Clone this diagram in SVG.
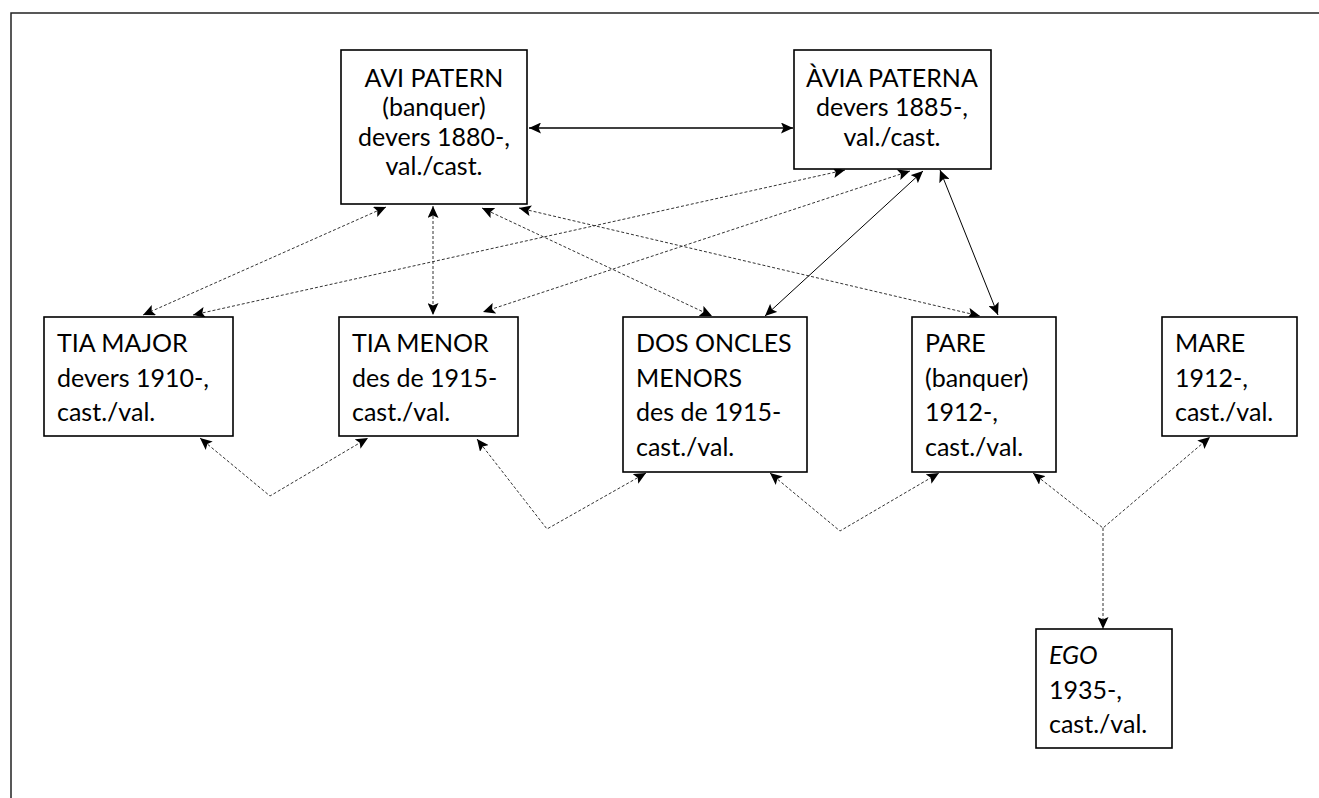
<svg xmlns="http://www.w3.org/2000/svg" width="1319" height="798" viewBox="0 0 1319 798">
<style>
.frame{fill:none;stroke:#222;stroke-width:1.5}
.box{fill:#fff;stroke:#000;stroke-width:1.6}
.t{font-family:Lato,"Liberation Sans",sans-serif;font-size:25px;fill:#000}
.c{text-anchor:middle}
.sol{fill:none;stroke:#000;stroke-width:1}
.thick{stroke-width:1.5}
.dash{fill:none;stroke:#333;stroke-width:1;stroke-dasharray:3 2}
</style>
<defs>
<marker id="ah" viewBox="0 0 12 11" refX="12" refY="5.5" markerWidth="12" markerHeight="11" markerUnits="userSpaceOnUse" orient="auto-start-reverse">
<path d="M0,0 L12,5.5 L0,11 L2.5,5.5 Z" fill="#000"/>
</marker>
</defs>
<rect class="frame" x="11" y="13" width="1330" height="800"/>

<g id="connectors">
<line class="sol thick" x1="529" y1="128" x2="793" y2="128" marker-start="url(#ah)" marker-end="url(#ah)"/>
<line class="dash" x1="386" y1="207" x2="143" y2="315" marker-start="url(#ah)" marker-end="url(#ah)"/>
<line class="dash" x1="845" y1="170" x2="193" y2="315" marker-start="url(#ah)" marker-end="url(#ah)"/>
<line class="dash" x1="433" y1="206" x2="433" y2="315" marker-start="url(#ah)" marker-end="url(#ah)"/>
<line class="dash" x1="910" y1="171" x2="483" y2="312" marker-start="url(#ah)" marker-end="url(#ah)"/>
<line class="dash" x1="482" y1="208" x2="712" y2="316" marker-start="url(#ah)" marker-end="url(#ah)"/>
<line class="dash" x1="519" y1="208" x2="980" y2="316" marker-start="url(#ah)" marker-end="url(#ah)"/>
<line class="sol" x1="923" y1="171" x2="765" y2="316" marker-start="url(#ah)" marker-end="url(#ah)"/>
<line class="sol" x1="940" y1="170" x2="998" y2="315" marker-start="url(#ah)" marker-end="url(#ah)"/>
<polyline class="dash" points="200,438 270,496 368,438" marker-start="url(#ah)" marker-end="url(#ah)"/>
<polyline class="dash" points="477,439 547,529 646,473" marker-start="url(#ah)" marker-end="url(#ah)"/>
<polyline class="dash" points="770,473 840,531 939,473" marker-start="url(#ah)" marker-end="url(#ah)"/>
<polyline class="dash" points="1033,473 1103,528 1210,437" marker-start="url(#ah)" marker-end="url(#ah)"/>
<line class="dash" x1="1103" y1="528" x2="1103" y2="629" marker-end="url(#ah)"/>
</g>

<g id="avi-patern">
<rect class="box" x="341" y="50" width="186" height="154"/>
<text class="t c" x="434" y="87">AVI PATERN</text>
<text class="t c" x="434" y="116">(banquer)</text>
<text class="t c" x="434" y="146">devers 1880-,</text>
<text class="t c" x="434" y="175">val./cast.</text>
</g>

<g id="avia-paterna">
<rect class="box" x="794" y="50" width="197" height="119"/>
<text class="t c" x="892" y="87">ÀVIA PATERNA</text>
<text class="t c" x="892" y="116">devers 1885-,</text>
<text class="t c" x="892" y="146">val./cast.</text>
</g>

<g id="tia-major">
<rect class="box" x="44" y="317" width="189" height="119"/>
<text class="t" x="57" y="352">TIA MAJOR</text>
<text class="t" x="57" y="387">devers 1910-,</text>
<text class="t" x="57" y="421">cast./val.</text>
</g>

<g id="tia-menor">
<rect class="box" x="339" y="317" width="179" height="119"/>
<text class="t" x="352" y="352">TIA MENOR</text>
<text class="t" x="352" y="387">des de 1915-</text>
<text class="t" x="352" y="421">cast./val.</text>
</g>

<g id="dos-oncles">
<rect class="box" x="623" y="317" width="184" height="155"/>
<text class="t" x="636" y="352">DOS ONCLES</text>
<text class="t" x="636" y="387">MENORS</text>
<text class="t" x="636" y="421">des de 1915-</text>
<text class="t" x="636" y="456">cast./val.</text>
</g>

<g id="pare">
<rect class="box" x="912" y="317" width="144" height="155"/>
<text class="t" x="925" y="352">PARE</text>
<text class="t" x="925" y="387">(banquer)</text>
<text class="t" x="925" y="421">1912-,</text>
<text class="t" x="925" y="456">cast./val.</text>
</g>

<g id="mare">
<rect class="box" x="1162" y="317" width="135" height="119"/>
<text class="t" x="1175" y="352">MARE</text>
<text class="t" x="1175" y="387">1912-,</text>
<text class="t" x="1175" y="421">cast./val.</text>
</g>

<g id="ego">
<rect class="box" x="1036" y="629" width="136" height="119"/>
<text class="t" x="1049" y="664" font-style="italic">EGO</text>
<text class="t" x="1049" y="699">1935-,</text>
<text class="t" x="1049" y="733">cast./val.</text>
</g>
</svg>
